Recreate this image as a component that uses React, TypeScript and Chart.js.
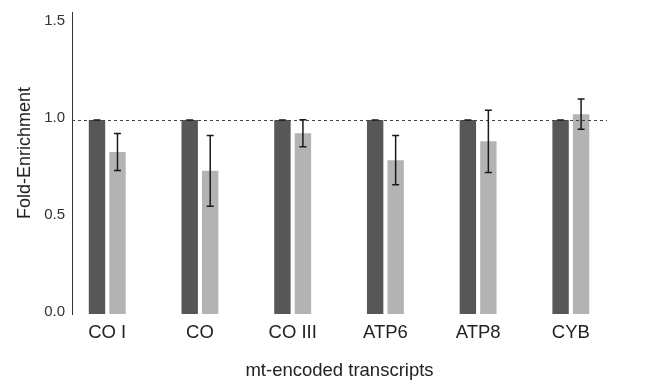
import React, { useEffect, useRef } from "react";
import { Chart, registerables } from "chart.js";

Chart.register(...registerables);

const categories = ["CO I", "CO", "CO III", "ATP6", "ATP8", "CYB"];
const controlValues = [1.0, 1.0, 1.0, 1.0, 1.0, 1.0];
const controlErrors = [0, 0, 0, 0, 0, 0];
const treatedValues = [0.835, 0.738, 0.932, 0.793, 0.89, 1.03];
const treatedErrors = [0.095, 0.182, 0.07, 0.127, 0.16, 0.078];
const yTicks = [0, 0.5, 1.0, 1.5];
const referenceLevel = 1.0;

const FONT = "'Liberation Sans', Arial, Helvetica, sans-serif";

const errorBarPlugin = {
  id: "errorBars",
  afterDatasetsDraw(chart: any) {
    const { ctx } = chart;
    const yScale = chart.scales.y;
    const errs = [controlErrors, treatedErrors];
    ctx.save();
    ctx.strokeStyle = "#1a1a1a";
    ctx.lineWidth = 1.5;
    chart.data.datasets.forEach((ds: any, di: number) => {
      const meta = chart.getDatasetMeta(di);
      meta.data.forEach((bar: any, i: number) => {
        const v = ds.data[i].y;
        const e = errs[di][i];
        const x = bar.x;
        const yTop = yScale.getPixelForValue(v + e);
        const yBot = yScale.getPixelForValue(v - e);
        const cap = 3.5;
        ctx.beginPath();
        ctx.moveTo(x, yTop);
        ctx.lineTo(x, yBot);
        ctx.moveTo(x - cap, yTop);
        ctx.lineTo(x + cap, yTop);
        ctx.moveTo(x - cap, yBot);
        ctx.lineTo(x + cap, yBot);
        ctx.stroke();
      });
    });
    ctx.restore();
  },
};

const refLinePlugin = {
  id: "refLine",
  afterDatasetsDraw(chart: any) {
    const { ctx, chartArea } = chart;
    const y = Math.round(chart.scales.y.getPixelForValue(referenceLevel)) + 0.5;
    ctx.save();
    ctx.strokeStyle = "#444";
    ctx.lineWidth = 1;
    ctx.setLineDash([3, 3]);
    ctx.beginPath();
    ctx.moveTo(chartArea.left, y);
    ctx.lineTo(chartArea.right, y);
    ctx.stroke();
    ctx.restore();
  },
};

export default function App() {
  const ref = useRef<HTMLCanvasElement | null>(null);
  useEffect(() => {
    document.body.style.margin = "0";
    const canvas = ref.current!;
    const chart = new Chart(canvas, {
      type: "bar",
      data: {
        datasets: [
          {
            label: "control",
            data: controlValues.map((v, i) => ({ x: i, y: v })),
            backgroundColor: "#575757",
            categoryPercentage: 0.442,
            barPercentage: 0.8,
          },
          {
            label: "treated",
            data: treatedValues.map((v, i) => ({ x: i, y: v })),
            backgroundColor: "#b3b3b3",
            categoryPercentage: 0.442,
            barPercentage: 0.8,
          },
        ] as any,
      },
      options: {
        animation: false,
        responsive: false,
        layout: { padding: { top: 12, right: 40, bottom: 0, left: 0 } },
        plugins: { legend: { display: false }, tooltip: { enabled: false } },
        scales: {
          x: {
            type: "linear",
            offset: false,
            min: -0.38,
            max: 5.39,
            grid: { display: false, drawTicks: false },
            border: { display: false },
            afterBuildTicks: (scale: any) => {
              scale.ticks = categories.map((_, i) => ({ value: i }));
            },
            afterFit: (scale: any) => {
              scale.height = 72;
              scale.paddingLeft = 0;
              scale.paddingRight = 0;
            },
            ticks: {
              autoSkip: false,
              maxRotation: 0,
              padding: 8,
              color: "#222",
              font: { family: FONT, size: 18.5 },
              callback: (v: any) => categories[v] ?? "",
            },
            title: {
              display: true,
              text: "mt-encoded transcripts",
              color: "#222",
              font: { family: FONT, size: 18.5 },
              padding: { top: 0, bottom: 4 },
            },
          },
          y: {
            min: 0,
            max: 1.557,
            grid: { display: false, drawTicks: false },
            border: { display: true, color: "#333", width: 1 },
            afterBuildTicks: (scale: any) => {
              scale.ticks = yTicks.map((v) => ({ value: v }));
            },
            afterFit: (scale: any) => {
              scale.width = 72;
              scale.paddingTop = 0;
              scale.paddingBottom = 0;
            },
            ticks: {
              padding: 7,
              labelOffset: -2,
              color: "#333",
              font: { family: FONT, size: 15 },
              callback: (v: any) => Number(v).toFixed(1),
            },
            title: {
              display: true,
              text: "    Fold-Enrichment",
              color: "#222",
              font: { family: FONT, size: 18 },
              padding: { top: 14, bottom: 0 },
            },
          },
        },
      } as any,
      plugins: [refLinePlugin, errorBarPlugin],
    });
    return () => chart.destroy();
  }, []);
  return (
    <div style={{ width: 647, height: 386 }}>
      <canvas ref={ref} width={647} height={386} style={{ display: "block" }} />
    </div>
  );
}
